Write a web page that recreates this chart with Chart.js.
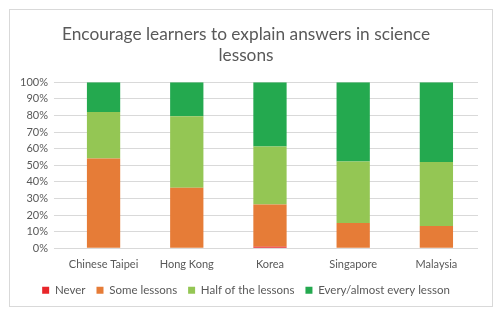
<!DOCTYPE html>
<html>
<head>
<meta charset="utf-8">
<script src="https://cdn.jsdelivr.net/npm/chart.js@4"></script>
<style>
  body { margin: 0; background: #fff; }
  #box { position: absolute; left: 9px; top: 9px; width: 482px; height: 296px; border: 1px solid #d9d9d9; }
</style>
</head>
<body>
<div id="box"><canvas id="myChart"></canvas></div>
<script>
const categories = ["Chinese Taipei", "Hong Kong", "Korea", "Singapore", "Malaysia"]
const never = [0, 0, 1, 0, 0]
const someLessons = [54, 36.5, 25.3, 15.2, 13.5]
const halfLessons = [28, 43, 35, 37, 38.5]
const everyLesson = [18, 20.5, 38.7, 47.8, 48]
const yTicks = [0, 10, 20, 30, 40, 50, 60, 70, 80, 90, 100]

const font = "Lato"
const ctx = document.getElementById('myChart')

new Chart(ctx, {
  type: 'bar',
  data: {
    labels: categories,
    datasets: [
      { label: 'Never', data: never, backgroundColor: '#e8262a' },
      { label: 'Some lessons', data: someLessons, backgroundColor: '#e67c37' },
      { label: 'Half of the lessons', data: halfLessons, backgroundColor: '#94c654' },
      { label: 'Every/almost every lesson', data: everyLesson, backgroundColor: '#24a94f' }
    ]
  },
  options: {
    responsive: true,
    maintainAspectRatio: false,
    animation: false,
    datasets: { bar: { categoryPercentage: 1, barPercentage: 0.4 } },
    layout: { padding: { left: 4, right: 14, top: 4, bottom: 0 } },
    plugins: {
      title: {
        display: true,
        text: ['Encourage learners to explain answers in science', 'lessons'],
        color: '#595959',
        font: { family: font, size: 17.3, weight: 'normal', lineHeight: 1.22 },
        padding: { top: 10, bottom: 16 }
      },
      legend: {
        position: 'bottom',
        labels: {
          color: '#595959',
          font: { family: font, size: 11.5 },
          boxWidth: 7,
          boxHeight: 7,
          padding: 11
        }
      },
      tooltip: { enabled: false }
    },
    scales: {
      x: {
        stacked: true,
        grid: { display: false },
        border: { display: false },
        ticks: { color: '#595959', font: { family: font, size: 11 }, padding: 2 }
      },
      y: {
        stacked: true,
        min: 0,
        max: 100,
        afterBuildTicks: axis => { axis.ticks = yTicks.map(v => ({ value: v })) },
        grid: { color: '#d9d9d9' },
        border: { display: false },
        ticks: { color: '#595959', font: { family: font, size: 11 }, autoSkip: false, padding: 6, callback: v => v + '%' }
      }
    }
  }
})
</script>
</body>
</html>
